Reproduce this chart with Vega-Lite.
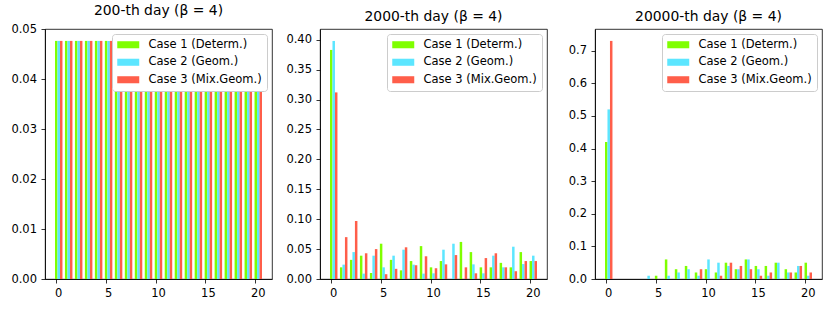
{
  "$schema": "https://vega.github.io/schema/vega-lite/v6.json",
  "padding": {"left": 10, "top": 3, "right": 5, "bottom": 2},
  "spacing": 12,
  "datasets": {
    "d200": [
      {"x":0,"case":"Case 1 (Determ.)","p":0.047619},{"x":0,"case":"Case 2 (Geom.)","p":0.047619},{"x":0,"case":"Case 3 (Mix.Geom.)","p":0.047619},
      {"x":1,"case":"Case 1 (Determ.)","p":0.047619},{"x":1,"case":"Case 2 (Geom.)","p":0.047619},{"x":1,"case":"Case 3 (Mix.Geom.)","p":0.047619},
      {"x":2,"case":"Case 1 (Determ.)","p":0.047619},{"x":2,"case":"Case 2 (Geom.)","p":0.047619},{"x":2,"case":"Case 3 (Mix.Geom.)","p":0.047619},
      {"x":3,"case":"Case 1 (Determ.)","p":0.047619},{"x":3,"case":"Case 2 (Geom.)","p":0.047619},{"x":3,"case":"Case 3 (Mix.Geom.)","p":0.047619},
      {"x":4,"case":"Case 1 (Determ.)","p":0.047619},{"x":4,"case":"Case 2 (Geom.)","p":0.047619},{"x":4,"case":"Case 3 (Mix.Geom.)","p":0.047619},
      {"x":5,"case":"Case 1 (Determ.)","p":0.047619},{"x":5,"case":"Case 2 (Geom.)","p":0.047619},{"x":5,"case":"Case 3 (Mix.Geom.)","p":0.047619},
      {"x":6,"case":"Case 1 (Determ.)","p":0.047619},{"x":6,"case":"Case 2 (Geom.)","p":0.047619},{"x":6,"case":"Case 3 (Mix.Geom.)","p":0.047619},
      {"x":7,"case":"Case 1 (Determ.)","p":0.047619},{"x":7,"case":"Case 2 (Geom.)","p":0.047619},{"x":7,"case":"Case 3 (Mix.Geom.)","p":0.047619},
      {"x":8,"case":"Case 1 (Determ.)","p":0.047619},{"x":8,"case":"Case 2 (Geom.)","p":0.047619},{"x":8,"case":"Case 3 (Mix.Geom.)","p":0.047619},
      {"x":9,"case":"Case 1 (Determ.)","p":0.047619},{"x":9,"case":"Case 2 (Geom.)","p":0.047619},{"x":9,"case":"Case 3 (Mix.Geom.)","p":0.047619},
      {"x":10,"case":"Case 1 (Determ.)","p":0.047619},{"x":10,"case":"Case 2 (Geom.)","p":0.047619},{"x":10,"case":"Case 3 (Mix.Geom.)","p":0.047619},
      {"x":11,"case":"Case 1 (Determ.)","p":0.047619},{"x":11,"case":"Case 2 (Geom.)","p":0.047619},{"x":11,"case":"Case 3 (Mix.Geom.)","p":0.047619},
      {"x":12,"case":"Case 1 (Determ.)","p":0.047619},{"x":12,"case":"Case 2 (Geom.)","p":0.047619},{"x":12,"case":"Case 3 (Mix.Geom.)","p":0.047619},
      {"x":13,"case":"Case 1 (Determ.)","p":0.047619},{"x":13,"case":"Case 2 (Geom.)","p":0.047619},{"x":13,"case":"Case 3 (Mix.Geom.)","p":0.047619},
      {"x":14,"case":"Case 1 (Determ.)","p":0.047619},{"x":14,"case":"Case 2 (Geom.)","p":0.047619},{"x":14,"case":"Case 3 (Mix.Geom.)","p":0.047619},
      {"x":15,"case":"Case 1 (Determ.)","p":0.047619},{"x":15,"case":"Case 2 (Geom.)","p":0.047619},{"x":15,"case":"Case 3 (Mix.Geom.)","p":0.047619},
      {"x":16,"case":"Case 1 (Determ.)","p":0.047619},{"x":16,"case":"Case 2 (Geom.)","p":0.047619},{"x":16,"case":"Case 3 (Mix.Geom.)","p":0.047619},
      {"x":17,"case":"Case 1 (Determ.)","p":0.047619},{"x":17,"case":"Case 2 (Geom.)","p":0.047619},{"x":17,"case":"Case 3 (Mix.Geom.)","p":0.047619},
      {"x":18,"case":"Case 1 (Determ.)","p":0.047619},{"x":18,"case":"Case 2 (Geom.)","p":0.047619},{"x":18,"case":"Case 3 (Mix.Geom.)","p":0.047619},
      {"x":19,"case":"Case 1 (Determ.)","p":0.047619},{"x":19,"case":"Case 2 (Geom.)","p":0.047619},{"x":19,"case":"Case 3 (Mix.Geom.)","p":0.047619},
      {"x":20,"case":"Case 1 (Determ.)","p":0.047619},{"x":20,"case":"Case 2 (Geom.)","p":0.047619},{"x":20,"case":"Case 3 (Mix.Geom.)","p":0.047619}
    ],
    "d2000": [
      {"x":0,"case":"Case 1 (Determ.)","p":0.383},{"x":0,"case":"Case 2 (Geom.)","p":0.398},{"x":0,"case":"Case 3 (Mix.Geom.)","p":0.312},
      {"x":1,"case":"Case 1 (Determ.)","p":0.0195},{"x":1,"case":"Case 2 (Geom.)","p":0.024},{"x":1,"case":"Case 3 (Mix.Geom.)","p":0.070},
      {"x":2,"case":"Case 1 (Determ.)","p":0.032},{"x":2,"case":"Case 2 (Geom.)","p":0.045},{"x":2,"case":"Case 3 (Mix.Geom.)","p":0.097},
      {"x":3,"case":"Case 1 (Determ.)","p":0.039},{"x":3,"case":"Case 2 (Geom.)","p":0.009},{"x":3,"case":"Case 3 (Mix.Geom.)","p":0.043},
      {"x":4,"case":"Case 1 (Determ.)","p":0.010},{"x":4,"case":"Case 2 (Geom.)","p":0.039},{"x":4,"case":"Case 3 (Mix.Geom.)","p":0.050},
      {"x":5,"case":"Case 1 (Determ.)","p":0.059},{"x":5,"case":"Case 2 (Geom.)","p":0.0195},{"x":5,"case":"Case 3 (Mix.Geom.)","p":0.008},
      {"x":6,"case":"Case 1 (Determ.)","p":0.032},{"x":6,"case":"Case 2 (Geom.)","p":0.039},{"x":6,"case":"Case 3 (Mix.Geom.)","p":0.017},
      {"x":7,"case":"Case 1 (Determ.)","p":0.0145},{"x":7,"case":"Case 2 (Geom.)","p":0.049},{"x":7,"case":"Case 3 (Mix.Geom.)","p":0.053},
      {"x":8,"case":"Case 1 (Determ.)","p":0.030},{"x":8,"case":"Case 2 (Geom.)","p":0.024},{"x":8,"case":"Case 3 (Mix.Geom.)","p":0.023},
      {"x":9,"case":"Case 1 (Determ.)","p":0.055},{"x":9,"case":"Case 2 (Geom.)","p":0.009},{"x":9,"case":"Case 3 (Mix.Geom.)","p":0.038},
      {"x":10,"case":"Case 1 (Determ.)","p":0.0195},{"x":10,"case":"Case 2 (Geom.)","p":0.0095},{"x":10,"case":"Case 3 (Mix.Geom.)","p":0.018},
      {"x":11,"case":"Case 1 (Determ.)","p":0.030},{"x":11,"case":"Case 2 (Geom.)","p":0.049},{"x":11,"case":"Case 3 (Mix.Geom.)","p":0.0245},
      {"x":12,"case":"Case 1 (Determ.)","p":0},{"x":12,"case":"Case 2 (Geom.)","p":0.059},{"x":12,"case":"Case 3 (Mix.Geom.)","p":0.040},
      {"x":13,"case":"Case 1 (Determ.)","p":0.062},{"x":13,"case":"Case 2 (Geom.)","p":0},{"x":13,"case":"Case 3 (Mix.Geom.)","p":0.0195},
      {"x":14,"case":"Case 1 (Determ.)","p":0.045},{"x":14,"case":"Case 2 (Geom.)","p":0.0245},{"x":14,"case":"Case 3 (Mix.Geom.)","p":0.0095},
      {"x":15,"case":"Case 1 (Determ.)","p":0.0195},{"x":15,"case":"Case 2 (Geom.)","p":0.0095},{"x":15,"case":"Case 3 (Mix.Geom.)","p":0.035},
      {"x":16,"case":"Case 1 (Determ.)","p":0.0195},{"x":16,"case":"Case 2 (Geom.)","p":0.039},{"x":16,"case":"Case 3 (Mix.Geom.)","p":0.043},
      {"x":17,"case":"Case 1 (Determ.)","p":0.027},{"x":17,"case":"Case 2 (Geom.)","p":0.0195},{"x":17,"case":"Case 3 (Mix.Geom.)","p":0.0195},
      {"x":18,"case":"Case 1 (Determ.)","p":0.0195},{"x":18,"case":"Case 2 (Geom.)","p":0.054},{"x":18,"case":"Case 3 (Mix.Geom.)","p":0.013},
      {"x":19,"case":"Case 1 (Determ.)","p":0.045},{"x":19,"case":"Case 2 (Geom.)","p":0.025},{"x":19,"case":"Case 3 (Mix.Geom.)","p":0.030},
      {"x":20,"case":"Case 1 (Determ.)","p":0.030},{"x":20,"case":"Case 2 (Geom.)","p":0.039},{"x":20,"case":"Case 3 (Mix.Geom.)","p":0.030}
    ],
    "d20000": [
      {"x":0,"case":"Case 1 (Determ.)","p":0.42},{"x":0,"case":"Case 2 (Geom.)","p":0.52},{"x":0,"case":"Case 3 (Mix.Geom.)","p":0.73},
      {"x":1,"case":"Case 1 (Determ.)","p":0},{"x":1,"case":"Case 2 (Geom.)","p":0},{"x":1,"case":"Case 3 (Mix.Geom.)","p":0},
      {"x":2,"case":"Case 1 (Determ.)","p":0},{"x":2,"case":"Case 2 (Geom.)","p":0},{"x":2,"case":"Case 3 (Mix.Geom.)","p":0},
      {"x":3,"case":"Case 1 (Determ.)","p":0},{"x":3,"case":"Case 2 (Geom.)","p":0},{"x":3,"case":"Case 3 (Mix.Geom.)","p":0},
      {"x":4,"case":"Case 1 (Determ.)","p":0},{"x":4,"case":"Case 2 (Geom.)","p":0.01},{"x":4,"case":"Case 3 (Mix.Geom.)","p":0},
      {"x":5,"case":"Case 1 (Determ.)","p":0.01},{"x":5,"case":"Case 2 (Geom.)","p":0},{"x":5,"case":"Case 3 (Mix.Geom.)","p":0},
      {"x":6,"case":"Case 1 (Determ.)","p":0.06},{"x":6,"case":"Case 2 (Geom.)","p":0.01},{"x":6,"case":"Case 3 (Mix.Geom.)","p":0},
      {"x":7,"case":"Case 1 (Determ.)","p":0.03},{"x":7,"case":"Case 2 (Geom.)","p":0.02},{"x":7,"case":"Case 3 (Mix.Geom.)","p":0},
      {"x":8,"case":"Case 1 (Determ.)","p":0.04},{"x":8,"case":"Case 2 (Geom.)","p":0.03},{"x":8,"case":"Case 3 (Mix.Geom.)","p":0},
      {"x":9,"case":"Case 1 (Determ.)","p":0.02},{"x":9,"case":"Case 2 (Geom.)","p":0.01},{"x":9,"case":"Case 3 (Mix.Geom.)","p":0.03},
      {"x":10,"case":"Case 1 (Determ.)","p":0.03},{"x":10,"case":"Case 2 (Geom.)","p":0.06},{"x":10,"case":"Case 3 (Mix.Geom.)","p":0},
      {"x":11,"case":"Case 1 (Determ.)","p":0.02},{"x":11,"case":"Case 2 (Geom.)","p":0.05},{"x":11,"case":"Case 3 (Mix.Geom.)","p":0.01},
      {"x":12,"case":"Case 1 (Determ.)","p":0.05},{"x":12,"case":"Case 2 (Geom.)","p":0.04},{"x":12,"case":"Case 3 (Mix.Geom.)","p":0.05},
      {"x":13,"case":"Case 1 (Determ.)","p":0.03},{"x":13,"case":"Case 2 (Geom.)","p":0.03},{"x":13,"case":"Case 3 (Mix.Geom.)","p":0.04},
      {"x":14,"case":"Case 1 (Determ.)","p":0.06},{"x":14,"case":"Case 2 (Geom.)","p":0.06},{"x":14,"case":"Case 3 (Mix.Geom.)","p":0.03},
      {"x":15,"case":"Case 1 (Determ.)","p":0.04},{"x":15,"case":"Case 2 (Geom.)","p":0.03},{"x":15,"case":"Case 3 (Mix.Geom.)","p":0.01},
      {"x":16,"case":"Case 1 (Determ.)","p":0.04},{"x":16,"case":"Case 2 (Geom.)","p":0.01},{"x":16,"case":"Case 3 (Mix.Geom.)","p":0.02},
      {"x":17,"case":"Case 1 (Determ.)","p":0.05},{"x":17,"case":"Case 2 (Geom.)","p":0.05},{"x":17,"case":"Case 3 (Mix.Geom.)","p":0},
      {"x":18,"case":"Case 1 (Determ.)","p":0.03},{"x":18,"case":"Case 2 (Geom.)","p":0.02},{"x":18,"case":"Case 3 (Mix.Geom.)","p":0.02},
      {"x":19,"case":"Case 1 (Determ.)","p":0.02},{"x":19,"case":"Case 2 (Geom.)","p":0.04},{"x":19,"case":"Case 3 (Mix.Geom.)","p":0.04},
      {"x":20,"case":"Case 1 (Determ.)","p":0.05},{"x":20,"case":"Case 2 (Geom.)","p":0.01},{"x":20,"case":"Case 3 (Mix.Geom.)","p":0.02}
    ]
  },
  "hconcat": [
    {
      "width": 227, "height": 250,
      "title": "200-th day (β = 4)",
      "data": {"name": "d200"},
      "mark": {"type": "bar"},
      "encoding": {
        "x": {"field": "x", "type": "ordinal", "scale": {"type": "band", "paddingInner": 0.25, "paddingOuter": 1.035}, "axis": {"values": [0, 5, 10, 15, 20], "labelAngle": 0, "bandPosition": 0.1667}},
        "xOffset": {"field": "case", "type": "nominal", "scale": {"domain": ["Case 1 (Determ.)", "Case 2 (Geom.)", "Case 3 (Mix.Geom.)"]}},
        "y": {"field": "p", "type": "quantitative", "scale": {"domain": [0, 0.05], "nice": false}, "axis": {"values": [0, 0.01, 0.02, 0.03, 0.04, 0.05], "format": ".2f", "minExtent": 34, "maxExtent": 34}},
        "color": {"field": "case", "type": "nominal", "scale": {"domain": ["Case 1 (Determ.)", "Case 2 (Geom.)", "Case 3 (Mix.Geom.)"], "range": ["#7FFF00", "#5CE6FF", "#FF5E4A"]}}
      }
    },
    {
      "width": 227, "height": 250,
      "title": "2000-th day (β = 4)",
      "data": {"name": "d2000"},
      "mark": {"type": "bar"},
      "encoding": {
        "x": {"field": "x", "type": "ordinal", "scale": {"type": "band", "paddingInner": 0.25, "paddingOuter": 1.035}, "axis": {"values": [0, 5, 10, 15, 20], "labelAngle": 0, "bandPosition": 0.1667}},
        "xOffset": {"field": "case", "type": "nominal", "scale": {"domain": ["Case 1 (Determ.)", "Case 2 (Geom.)", "Case 3 (Mix.Geom.)"]}},
        "y": {"field": "p", "type": "quantitative", "scale": {"domain": [0, 0.418], "nice": false}, "axis": {"values": [0, 0.05, 0.1, 0.15, 0.2, 0.25, 0.3, 0.35, 0.4], "format": ".2f", "minExtent": 34, "maxExtent": 34}},
        "color": {"field": "case", "type": "nominal", "scale": {"domain": ["Case 1 (Determ.)", "Case 2 (Geom.)", "Case 3 (Mix.Geom.)"], "range": ["#7FFF00", "#5CE6FF", "#FF5E4A"]}}
      }
    },
    {
      "width": 227, "height": 250,
      "title": "20000-th day (β = 4)",
      "data": {"name": "d20000"},
      "mark": {"type": "bar"},
      "encoding": {
        "x": {"field": "x", "type": "ordinal", "scale": {"type": "band", "paddingInner": 0.25, "paddingOuter": 1.035}, "axis": {"values": [0, 5, 10, 15, 20], "labelAngle": 0, "bandPosition": 0.1667}},
        "xOffset": {"field": "case", "type": "nominal", "scale": {"domain": ["Case 1 (Determ.)", "Case 2 (Geom.)", "Case 3 (Mix.Geom.)"]}},
        "y": {"field": "p", "type": "quantitative", "scale": {"domain": [0, 0.7665], "nice": false}, "axis": {"values": [0, 0.1, 0.2, 0.3, 0.4, 0.5, 0.6, 0.7], "format": ".1f", "minExtent": 34, "maxExtent": 34}},
        "color": {"field": "case", "type": "nominal", "scale": {"domain": ["Case 1 (Determ.)", "Case 2 (Geom.)", "Case 3 (Mix.Geom.)"], "range": ["#7FFF00", "#5CE6FF", "#FF5E4A"]}}
      }
    }
  ],
  "resolve": {"scale": {"x": "independent", "y": "independent", "color": "independent", "xOffset": "independent"}, "legend": {"color": "independent"}},
  "config": {
    "font": "DejaVu Sans",
    "view": {"stroke": "black", "strokeWidth": 0.8},
    "axis": {"domainColor": "black", "domainWidth": 0.8, "tickColor": "black", "tickWidth": 0.8, "tickSize": 4, "labelColor": "black", "labelFontSize": 11.5, "labelFont": "DejaVu Sans", "labelPadding": 4.5, "grid": false, "title": null},
    "title": {"fontSize": 13.9, "fontWeight": 400, "font": "DejaVu Sans", "color": "black", "offset": 5},
    "legend": {"orient": "top-right", "offset": 5, "padding": 5, "fillColor": "white", "strokeColor": "#cccccc", "cornerRadius": 3, "title": null, "labelFont": "DejaVu Sans", "labelFontSize": 11.5, "labelColor": "black", "symbolType": "M-1,-0.64H3V0.64H-1Z", "symbolSize": 121, "symbolStrokeWidth": 0, "symbolOpacity": 1, "rowPadding": 4.5, "labelOffset": 20}
  }
}
